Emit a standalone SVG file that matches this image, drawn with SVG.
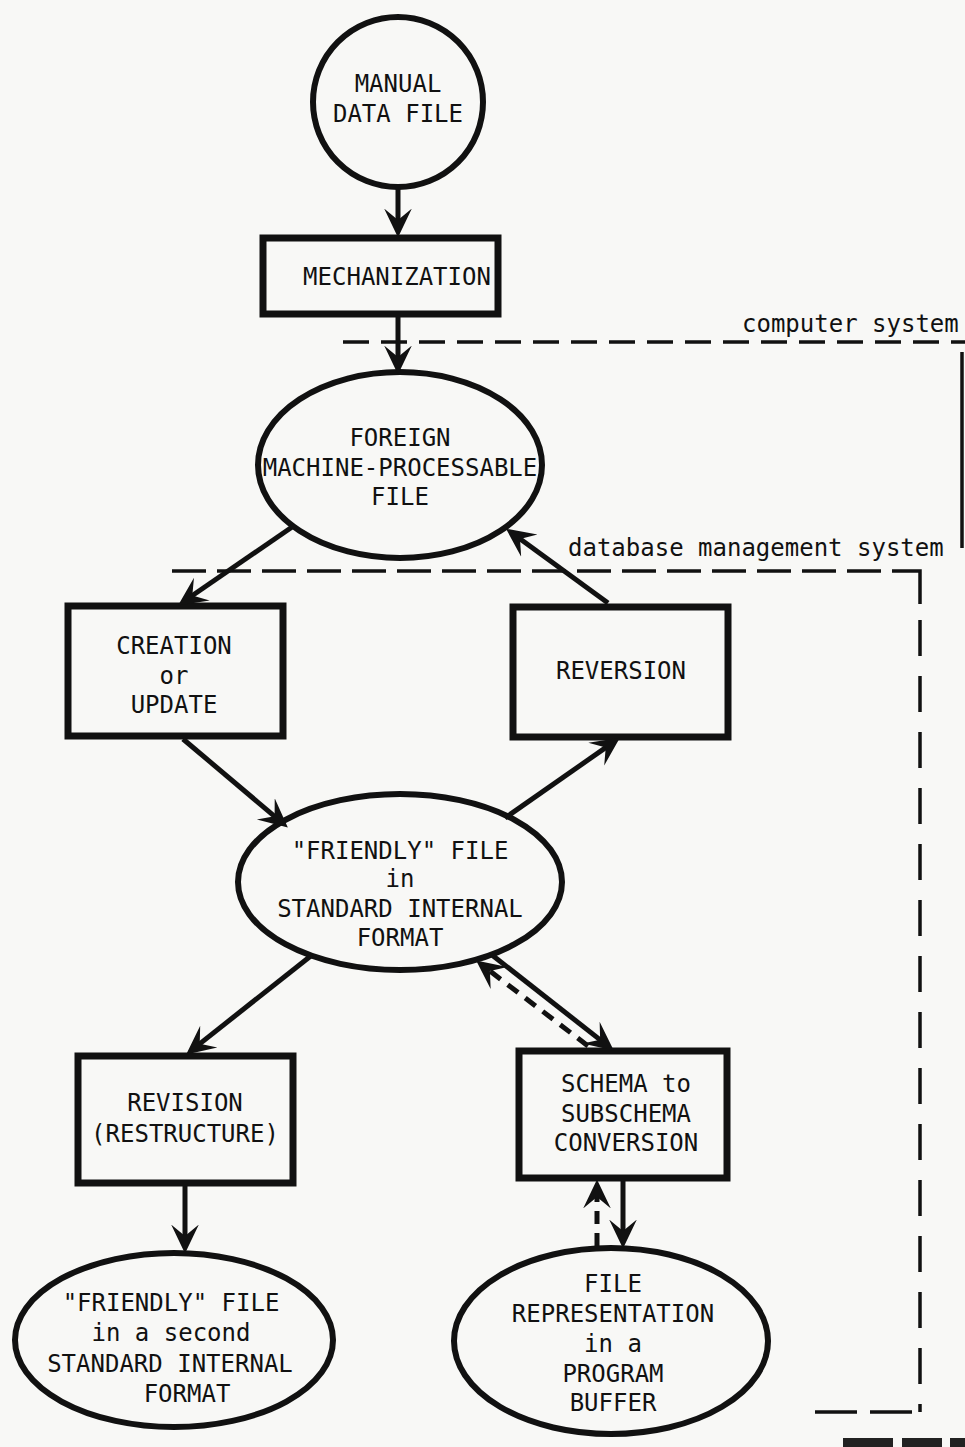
<svg xmlns="http://www.w3.org/2000/svg" width="965" height="1447" viewBox="0 0 965 1447">
  <defs>
    <style>
      .box { fill: #f8f8f6; stroke: #111; stroke-width: 7; }
      .oval { fill: #f8f8f6; stroke: #111; stroke-width: 6; }
      .flow { fill: none; stroke: #111; stroke-width: 5; marker-end: url(#head); }
      .flow-dash { fill: none; stroke: #111; stroke-width: 5; stroke-dasharray: 13 9; marker-end: url(#head); }
      .bound { fill: none; stroke: #111; stroke-width: 3.5; }
      .lbl { font-family: "DejaVu Sans Mono", "Liberation Mono", monospace; font-size: 24px; fill: #111; text-anchor: middle; }
      .note { font-family: "DejaVu Sans Mono", "Liberation Mono", monospace; font-size: 24px; fill: #111; text-anchor: start; }
    </style>
    <marker id="head" markerUnits="userSpaceOnUse" markerWidth="30" markerHeight="30" viewBox="0 -13 26 26" refX="16" refY="0" orient="auto">
      <path d="M25,0 L0,-12 L10,0 L0,12 Z" fill="#111"/>
    </marker>
  </defs>

  <rect x="0" y="0" width="965" height="1447" fill="#f8f8f6"/>

  <!-- system boundaries -->
  <g id="boundaries">
    <text class="note" x="742" y="332">computer system</text>
    <line class="bound" x1="343" y1="342" x2="965" y2="342" stroke-dasharray="26 12"/>
    <line class="bound" x1="962" y1="352" x2="962" y2="548" stroke-width="3"/>
    <text class="note" x="568" y="556">database management system</text>
    <line class="bound" x1="172" y1="571" x2="885" y2="571" stroke-dasharray="34 11"/>
    <path class="bound" d="M892,571 H920 V604"/>
    <line class="bound" x1="920" y1="620" x2="920" y2="1412" stroke-dasharray="36 20"/>
    <line class="bound" x1="815" y1="1412" x2="912" y2="1412" stroke-dasharray="42 13"/>
    <rect x="843" y="1438" width="50" height="9" fill="#222"/>
    <rect x="902" y="1438" width="40" height="9" fill="#222"/>
    <rect x="950" y="1438" width="15" height="9" fill="#222"/>
  </g>

  <!-- nodes -->
  <g id="manual-data-file">
    <circle class="oval" cx="398" cy="102" r="85"/>
    <text class="lbl" x="398" y="92">MANUAL</text>
    <text class="lbl" x="398" y="122">DATA FILE</text>
  </g>

  <g id="mechanization">
    <rect class="box" x="263" y="238" width="235" height="76"/>
    <text class="lbl" x="397" y="285">MECHANIZATION</text>
  </g>

  <g id="foreign-file">
    <ellipse class="oval" cx="400" cy="465" rx="142" ry="93"/>
    <text class="lbl" x="400" y="446">FOREIGN</text>
    <text class="lbl" x="400" y="476">MACHINE-PROCESSABLE</text>
    <text class="lbl" x="400" y="505">FILE</text>
  </g>

  <g id="creation">
    <rect class="box" x="68" y="606" width="215" height="130"/>
    <text class="lbl" x="174" y="654">CREATION</text>
    <text class="lbl" x="174" y="684">or</text>
    <text class="lbl" x="174" y="713">UPDATE</text>
  </g>

  <g id="reversion">
    <rect class="box" x="513" y="607" width="215" height="130"/>
    <text class="lbl" x="621" y="679">REVERSION</text>
  </g>

  <g id="friendly-file">
    <ellipse class="oval" cx="400" cy="882" rx="162" ry="88"/>
    <text class="lbl" x="400" y="859">"FRIENDLY" FILE</text>
    <text class="lbl" x="400" y="887">in</text>
    <text class="lbl" x="400" y="917">STANDARD INTERNAL</text>
    <text class="lbl" x="400" y="946">FORMAT</text>
  </g>

  <g id="revision">
    <rect class="box" x="78" y="1056" width="215" height="127"/>
    <text class="lbl" x="185" y="1111">REVISION</text>
    <text class="lbl" x="185" y="1142">(RESTRUCTURE)</text>
  </g>

  <g id="schema-conversion">
    <rect class="box" x="519" y="1051" width="208" height="127"/>
    <text class="lbl" x="626" y="1092">SCHEMA to</text>
    <text class="lbl" x="626" y="1122">SUBSCHEMA</text>
    <text class="lbl" x="626" y="1151">CONVERSION</text>
  </g>

  <g id="second-friendly-file">
    <ellipse class="oval" cx="174" cy="1340" rx="159" ry="87"/>
    <text class="lbl" x="171" y="1311">"FRIENDLY" FILE</text>
    <text class="lbl" x="171" y="1341">in a second</text>
    <text class="lbl" x="170" y="1372">STANDARD INTERNAL</text>
    <text class="lbl" x="187" y="1402">FORMAT</text>
  </g>

  <g id="program-buffer">
    <ellipse class="oval" cx="611" cy="1341" rx="157" ry="93"/>
    <text class="lbl" x="613" y="1292">FILE</text>
    <text class="lbl" x="613" y="1322">REPRESENTATION</text>
    <text class="lbl" x="613" y="1352">in a</text>
    <text class="lbl" x="613" y="1382">PROGRAM</text>
    <text class="lbl" x="613" y="1411">BUFFER</text>
  </g>

  <!-- connectors: line ends sit short of each arrow tip -->
  <g id="connectors">
    <line class="flow" x1="398" y1="187" x2="398" y2="227"/>
    <line class="flow" x1="398" y1="317" x2="398" y2="364"/>
    <line class="flow" x1="295" y1="525" x2="186.6" y2="599.5"/>
    <line class="flow" x1="608" y1="603" x2="514.4" y2="534.8"/>
    <line class="flow" x1="183" y1="739" x2="279.9" y2="820.8"/>
    <line class="flow" x1="505" y1="818" x2="611.4" y2="743.6"/>
    <line class="flow" x1="312" y1="955" x2="194.3" y2="1048.1"/>
    <line class="flow" x1="185" y1="1186" x2="185" y2="1243"/>
    <line class="flow" x1="492" y1="955" x2="605.6" y2="1044.1"/>
    <line class="flow-dash" x1="588" y1="1046" x2="484.4" y2="966.8"/>
    <line class="flow" x1="623" y1="1181" x2="623" y2="1238"/>
    <line class="flow-dash" x1="597" y1="1246" x2="597" y2="1190"/>
  </g>
</svg>
